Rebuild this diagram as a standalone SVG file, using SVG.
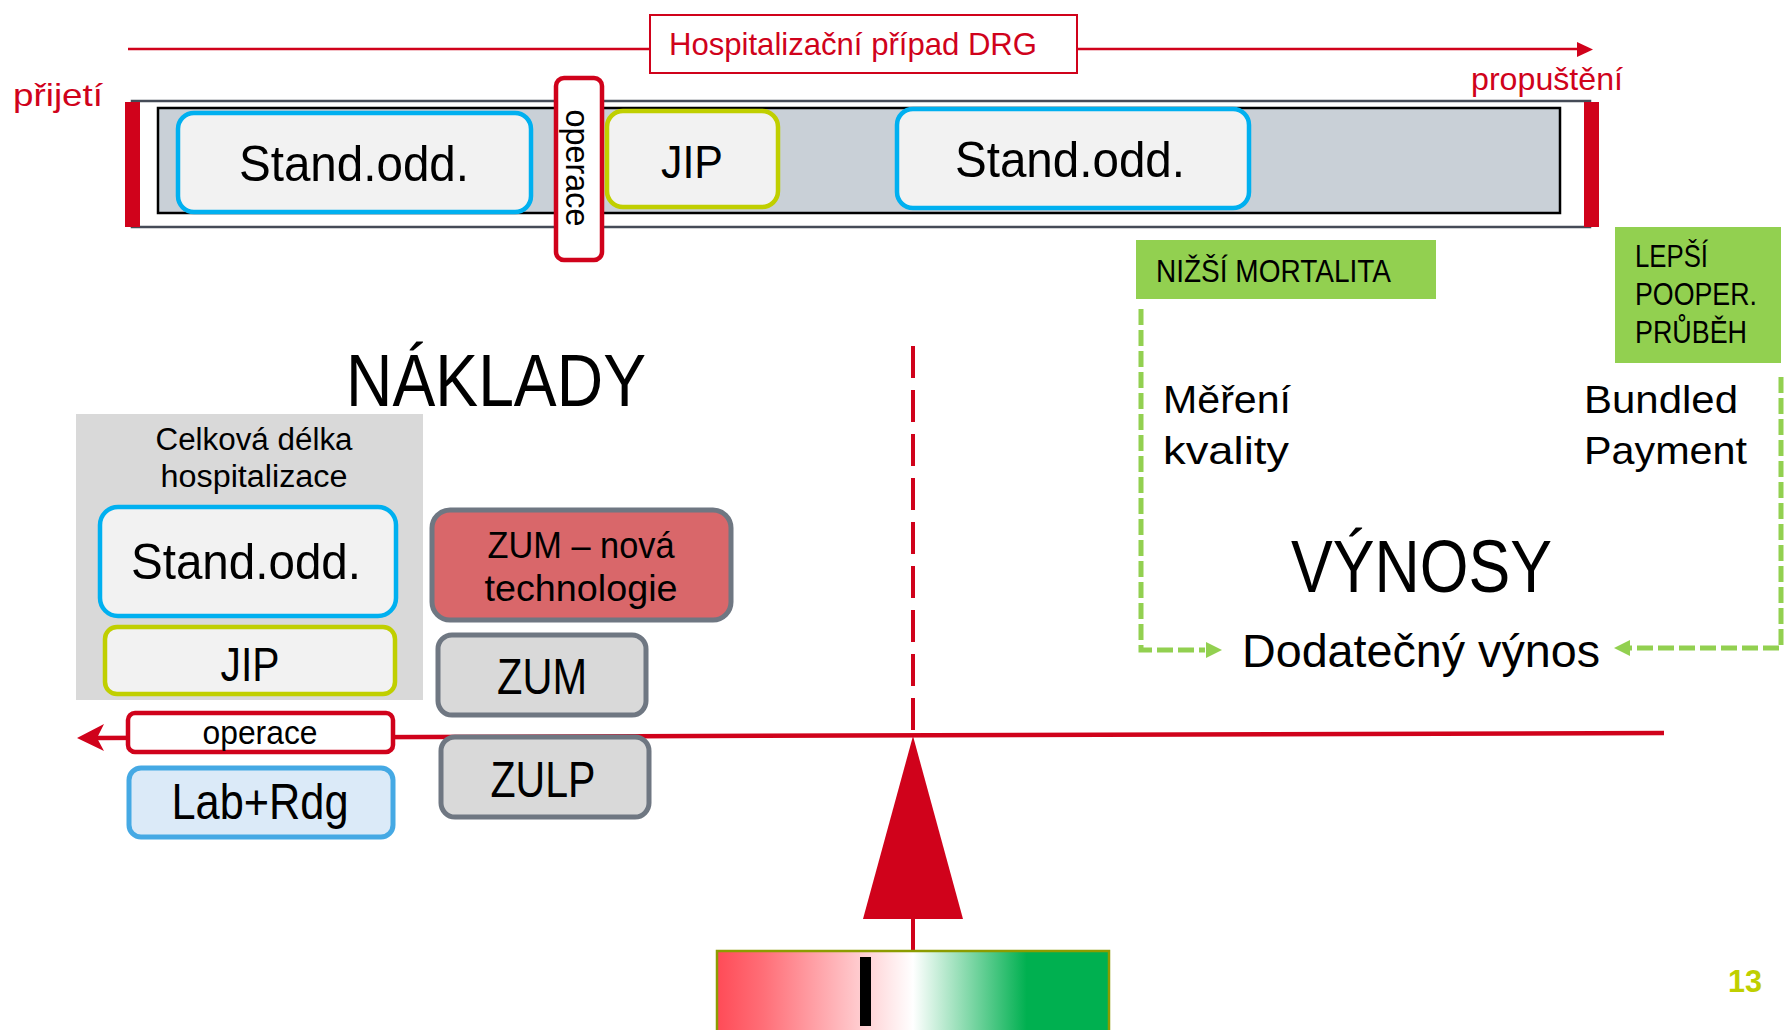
<svg xmlns="http://www.w3.org/2000/svg" width="1787" height="1030" viewBox="0 0 1787 1030">
<style>
text{font-family:"Liberation Sans",Arial,sans-serif;fill:#000}
.red{fill:#d0021b}
.c{text-anchor:middle}
.box{fill:#f2f2f2;stroke-width:4.5}
.cyan{stroke:#00b0f0}
.lime{stroke:#c0cf00}
.gbox{fill:#d9d9d9;stroke:#6f7782;stroke-width:5}
.rline{stroke:#d0021b;fill:none}
.gdash{stroke:#92d050;stroke-width:5;fill:none;stroke-dasharray:16 5}
.green{fill:#92d050}
</style>
<defs>
<linearGradient id="grad" x1="0" y1="0" x2="1" y2="0">
<stop offset="0" stop-color="#ff4b57"/>
<stop offset="0.12" stop-color="#ff6f78"/>
<stop offset="0.5" stop-color="#ffffff"/>
<stop offset="0.79" stop-color="#00b050"/>
<stop offset="1" stop-color="#00b050"/>
</linearGradient>
</defs>
<rect width="1787" height="1030" fill="#ffffff"/>

<!-- top timeline -->
<g id="timeline">
<line x1="128" y1="49" x2="1580" y2="49" class="rline" stroke-width="2.5"/>
<polygon points="1577,42 1593,49.5 1577,57" class="red"/>
</g>
<g id="drg-label">
<rect x="650" y="15" width="427" height="58" fill="#fff" stroke="#d0021b" stroke-width="2"/>
<text x="669" y="55" font-size="32" class="red" textLength="368" lengthAdjust="spacingAndGlyphs">Hospitalizační případ DRG</text>
</g>
<g id="prijeti"><text x="13" y="106" font-size="32" class="red" textLength="90" lengthAdjust="spacingAndGlyphs">přijetí</text></g>
<g id="propusteni"><text x="1471" y="90" font-size="32" class="red" textLength="152" lengthAdjust="spacingAndGlyphs">propuštění</text></g>

<g id="hospital-bar">
<rect x="132" y="101" width="1458" height="126" fill="#fff" stroke="#454b57" stroke-width="2.5"/>
<rect x="158" y="108" width="1402" height="105" fill="#c9d0d7" stroke="#000" stroke-width="2.5"/>
<rect x="125" y="102" width="15" height="125" class="red"/>
<rect x="1584" y="102" width="15" height="125" class="red"/>
</g>
<g id="stand1">
<rect x="178" y="113" width="353" height="99" rx="16" class="box cyan"/>
<text x="354" y="181" font-size="50" class="c" textLength="230" lengthAdjust="spacingAndGlyphs">Stand.odd.</text>
</g>
<g id="operace-top">
<rect x="556" y="78" width="46" height="182" rx="8" fill="#fff" stroke="#d0021b" stroke-width="4.5"/>
<text transform="translate(566,168) rotate(90)" font-size="34" class="c" textLength="117" lengthAdjust="spacingAndGlyphs">operace</text>
</g>
<g id="jip1">
<rect x="607" y="111" width="171" height="96" rx="16" class="box lime"/>
<text x="692" y="178" font-size="47" class="c" textLength="62" lengthAdjust="spacingAndGlyphs">JIP</text>
</g>
<g id="stand2">
<rect x="897" y="109" width="352" height="99" rx="16" class="box cyan"/>
<text x="1070" y="177" font-size="50" class="c" textLength="230" lengthAdjust="spacingAndGlyphs">Stand.odd.</text>
</g>

<!-- costs -->
<g id="naklady"><text x="346" y="406" font-size="75" textLength="300" lengthAdjust="spacingAndGlyphs">NÁKLADY</text></g>
<g id="delka">
<rect x="76" y="414" width="347" height="286" fill="#d9d9d9"/>
<text x="254" y="450" font-size="31" class="c" textLength="197" lengthAdjust="spacingAndGlyphs">Celková délka</text>
<text x="254" y="487" font-size="31" class="c" textLength="187" lengthAdjust="spacingAndGlyphs">hospitalizace</text>
</g>
<g id="stand3">
<rect x="100" y="507" width="296" height="109" rx="18" class="box cyan" stroke-width="5"/>
<text x="246" y="579" font-size="50" class="c" textLength="230" lengthAdjust="spacingAndGlyphs">Stand.odd.</text>
</g>
<g id="jip2">
<rect x="105" y="627" width="290" height="67" rx="12" class="box lime" stroke-width="5"/>
<text x="250" y="681" font-size="48" class="c" textLength="59" lengthAdjust="spacingAndGlyphs">JIP</text>
</g>
<g id="zum-nova">
<rect x="432" y="510" width="299" height="110" rx="18" fill="#d9676a" stroke="#6f7782" stroke-width="5"/>
<text x="581" y="558" font-size="37" class="c" textLength="187" lengthAdjust="spacingAndGlyphs">ZUM – nová</text>
<text x="581" y="601" font-size="37" class="c" textLength="193" lengthAdjust="spacingAndGlyphs">technologie</text>
</g>
<g id="zum">
<rect x="438" y="635" width="208" height="80" rx="14" class="gbox"/>
<text x="542" y="694" font-size="50" class="c" textLength="90" lengthAdjust="spacingAndGlyphs">ZUM</text>
</g>

<!-- balance -->
<g id="connectors">
<line x1="913" y1="346" x2="913" y2="733" class="rline" stroke-width="4" stroke-dasharray="32 12"/>
<line x1="95" y1="738" x2="1664" y2="733" class="rline" stroke-width="4.5"/>
<polygon points="77,738 104,724 97,738 104,751" class="red"/>
<line x1="913" y1="915" x2="913" y2="952" class="rline" stroke-width="4"/>
<polyline points="1141,309 1141,650 1205,650" class="gdash"/>
<polygon points="1206,642 1222,650 1206,658" class="green"/>
<polyline points="1781,377 1781,648 1630,648" class="gdash"/>
<polygon points="1630,640 1614,648 1630,656" class="green"/>
</g>
<g id="zulp">
<rect x="441" y="737" width="208" height="80" rx="14" class="gbox"/>
<text x="543" y="797" font-size="50" class="c" textLength="105" lengthAdjust="spacingAndGlyphs">ZULP</text>
</g>
<g id="operace-bottom">
<rect x="128" y="713" width="265" height="39" rx="7" fill="#fff" stroke="#d0021b" stroke-width="4.5"/>
<text x="260" y="744" font-size="34" class="c" textLength="115" lengthAdjust="spacingAndGlyphs">operace</text>
</g>
<g id="labrdg">
<rect x="129" y="768" width="264" height="69" rx="12" fill="#dbeaf8" stroke="#45a9e4" stroke-width="5"/>
<text x="260" y="819" font-size="50" class="c" textLength="177" lengthAdjust="spacingAndGlyphs">Lab+Rdg</text>
</g>
<g id="fulcrum">
<polygon points="913,736 963,919 863,919" class="red"/>
</g>
<g id="scale">
<rect x="717" y="951" width="392" height="90" fill="url(#grad)" stroke="#8c9c00" stroke-width="2.5"/>
<rect x="860" y="957" width="11" height="69" fill="#000"/>
</g>

<!-- revenues -->
<g id="nizsi-mortalita">
<rect x="1136" y="240" width="300" height="59" class="green"/>
<text x="1156" y="282" font-size="31" textLength="235" lengthAdjust="spacingAndGlyphs">NIŽŠÍ MORTALITA</text>
</g>
<g id="lepsi">
<rect x="1615" y="227" width="166" height="136" class="green"/>
<text x="1635" y="267" font-size="31" textLength="73" lengthAdjust="spacingAndGlyphs">LEPŠÍ</text>
<text x="1635" y="305" font-size="31" textLength="122" lengthAdjust="spacingAndGlyphs">POOPER.</text>
<text x="1635" y="343" font-size="31" textLength="112" lengthAdjust="spacingAndGlyphs">PRŮBĚH</text>
</g>
<g id="mereni">
<text x="1163" y="413" font-size="39" textLength="128" lengthAdjust="spacingAndGlyphs">Měření</text>
<text x="1163" y="464" font-size="39" textLength="126" lengthAdjust="spacingAndGlyphs">kvality</text>
</g>
<g id="bundled">
<text x="1584" y="413" font-size="39" textLength="154" lengthAdjust="spacingAndGlyphs">Bundled</text>
<text x="1584" y="464" font-size="39" textLength="163" lengthAdjust="spacingAndGlyphs">Payment</text>
</g>
<g id="vynosy"><text x="1291" y="592" font-size="75" textLength="261" lengthAdjust="spacingAndGlyphs">VÝNOSY</text></g>
<g id="dodatecny"><text x="1242" y="667" font-size="46" textLength="358" lengthAdjust="spacingAndGlyphs">Dodatečný výnos</text></g>
<g id="page"><text x="1728" y="992" font-size="31" font-weight="bold" style="fill:#bfcf00" textLength="34" lengthAdjust="spacingAndGlyphs">13</text></g>
</svg>
